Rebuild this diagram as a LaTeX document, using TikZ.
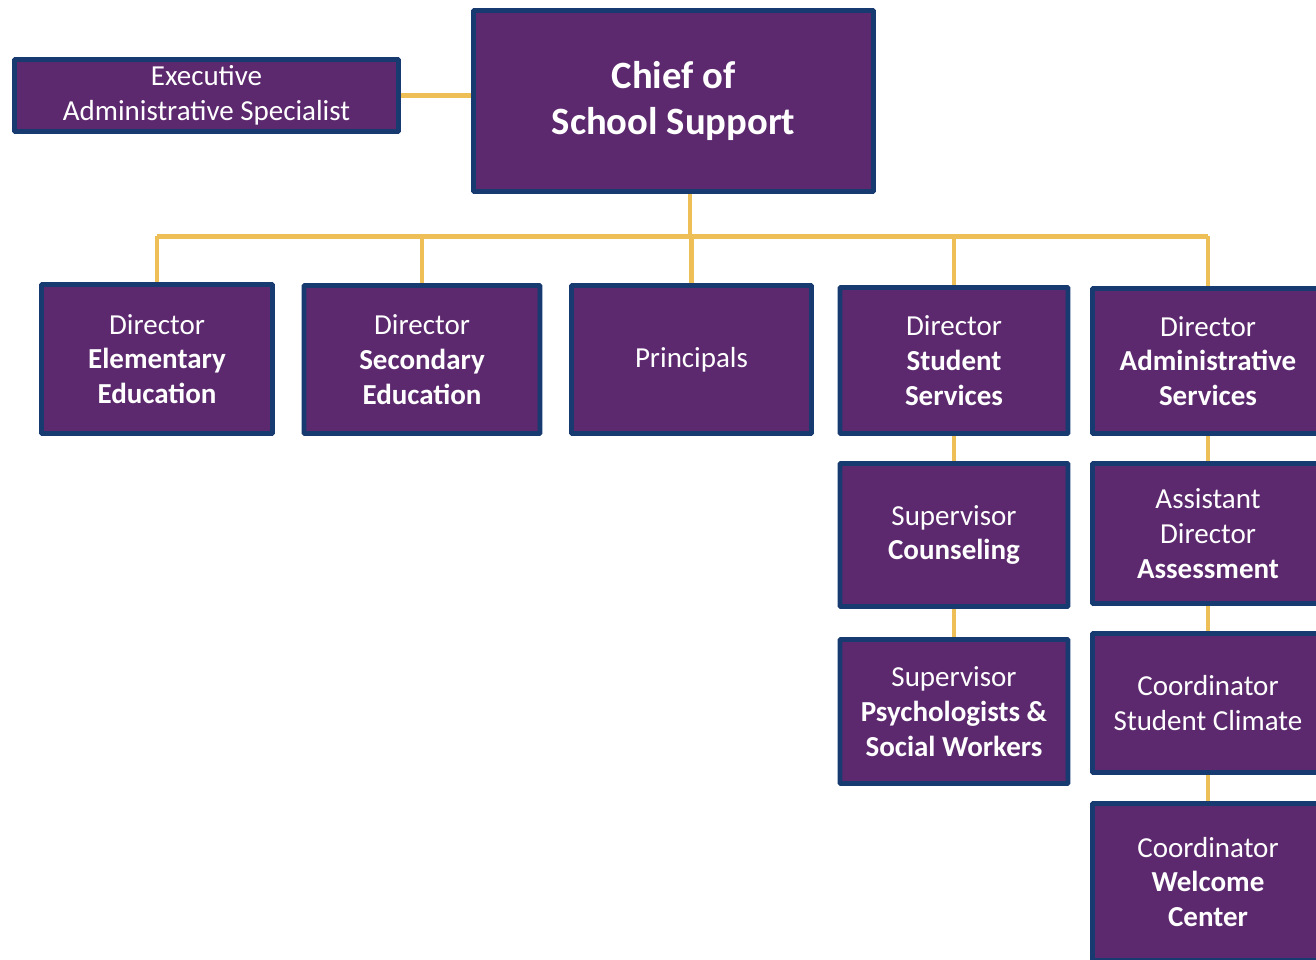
\documentclass[tikz,border=0pt]{standalone}
\usepackage{fontspec}
\setmainfont{Carlito}
\definecolor{boxfill}{HTML}{5C296E}
\definecolor{boxline}{HTML}{173A70}
\definecolor{linkgold}{HTML}{EEBF57}
\begin{document}
\begin{tikzpicture}[
	post/.style={draw=boxline, line width=2.8pt, fill=boxfill, text=white, align=center,
		inner sep=0pt, rounded corners=0.5pt, font=\fontsize{16.5}{19.8}\selectfont},
	link/.style={draw=linkgold, line width=2.3pt}
	]
	\useasboundingbox (0,0) rectangle (26.32,-19.2);
	
	\node[post, minimum width=7.68cm, minimum height=1.44cm] (exec) at (4.13,-1.91) {Executive\\Administrative Specialist};
	\node[post, minimum width=8.0cm, minimum height=3.62cm, font=\fontsize{22}{26}\selectfont\bfseries] (chief) at (13.47,-2.02) {Chief of\\School Support};
	
	\node[post, minimum width=4.62cm, minimum height=2.98cm] (elem) at (3.14,-7.18) {Director\\\textbf{Elementary}\\\textbf{Education}};
	\node[post, minimum width=4.72cm, minimum height=2.96cm] (second) at (8.44,-7.19) {Director\\\textbf{Secondary}\\\textbf{Education}};
	\node[post, minimum width=4.8cm, minimum height=2.96cm] (princ) at (13.83,-7.19) {Principals};
	\node[post, minimum width=4.56cm, minimum height=2.92cm] (stud) at (19.08,-7.21) {Director\\\textbf{Student}\\\textbf{Services}};
	\node[post, minimum width=4.62cm, minimum height=2.9cm] (admin) at (24.16,-7.22) {Director\\\textbf{Administrative}\\\textbf{Services}};
	
	\node[post, minimum width=4.56cm, minimum height=2.86cm] (couns) at (19.08,-10.7) {Supervisor\\\textbf{Counseling}};
	\node[post, minimum width=4.56cm, minimum height=2.88cm] (psych) at (19.08,-14.23) {Supervisor\\\textbf{Psychologists \&}\\\textbf{Social Workers}};
	
	\node[post, minimum width=4.62cm, minimum height=2.8cm] (assess) at (24.16,-10.67) {Assistant\\Director\\\textbf{Assessment}};
	\node[post, minimum width=4.62cm, minimum height=2.78cm] (climate) at (24.16,-14.06) {Coordinator\\Student Climate};
	\node[post, minimum width=4.62cm, minimum height=3.14cm] (welcome) at (24.16,-17.64) {Coordinator\\\textbf{Welcome}\\\textbf{Center}};
	
	% links
	\coordinate (bus) at (13.8,-4.73);
	\draw[link] (exec.east) -- (exec.east -| chief.west);
	\draw[link] (chief.south -| bus) -- (bus);
	\draw[link] (bus -| elem.north) -- (bus -| admin.north);
	\foreach \n in {elem,second,princ,stud,admin}
		\draw[link] (bus -| \n.north) -- (\n.north);
	\draw[link] (stud.south) -- (couns.north);
	\draw[link] (couns.south) -- (psych.north);
	\draw[link] (admin.south) -- (assess.north);
	\draw[link] (assess.south) -- (climate.north);
	\draw[link] (climate.south) -- (welcome.north);
\end{tikzpicture}
\end{document}
